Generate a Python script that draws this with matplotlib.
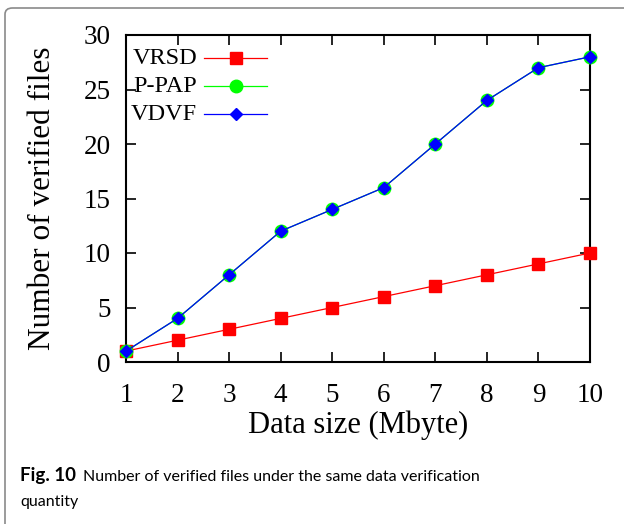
import matplotlib
matplotlib.use('Agg')
import matplotlib.pyplot as plt
from matplotlib.patches import FancyBboxPatch
from matplotlib.lines import Line2D

sizes = [1, 2, 3, 4, 5, 6, 7, 8, 9, 10]
vrsd = [1, 2, 3, 4, 5, 6, 7, 8, 9, 10]
ppap = [1, 4, 8, 12, 14, 16, 20, 24, 27, 28]
vdvf = [1, 4, 8, 12, 14, 16, 20, 24, 27, 28]
names = ['VRSD', 'P-PAP', 'VDVF']

serif = 'Liberation Serif'
sans = 'Lato'
fig = plt.figure(figsize=(6.24, 5.24), dpi=100)

# grey frame with rounded top-left corner
frame = FancyBboxPatch((5 / 624, -0.2), 1.2, 1.2 - 8 / 524,
                       boxstyle='round,pad=0,rounding_size=0.012',
                       transform=fig.transFigure, fill=False,
                       edgecolor='#8a8a8a', linewidth=1.2, clip_on=False)
fig.patches.append(frame)

ax = fig.add_axes([126 / 624, 1 - 362 / 524, (590 - 126) / 624, (362 - 35) / 524])

ax.plot(sizes, vrsd, '-', color='#ff0000', lw=0.9, marker='s', ms=8.5,
        mfc='#ff0000', mec='#ff0000', clip_on=False, zorder=3)
ax.plot(sizes, ppap, '-', color='#00ff00', lw=0.9, marker='o', ms=9,
        mfc='#00ff00', mec='#00ff00', clip_on=False, zorder=4)
ax.plot(sizes, vdvf, '-', color='#0000ff', lw=0.9, marker='D', ms=6.5,
        mfc='#0000ff', mec='#0000ff', clip_on=False, zorder=5)

ax.set_xlim(1, 10)
ax.set_ylim(0, 30)
ax.set_xticks(sizes)
ax.set_yticks([0, 5, 10, 15, 20, 25, 30])
ax.tick_params(direction='in', length=7, width=1.2, top=True, right=True,
               labelsize=19.5)
ax.tick_params(axis='x', pad=15)
ax.tick_params(axis='y', pad=11)
for lab in ax.get_xticklabels() + ax.get_yticklabels():
    lab.set_fontfamily(serif)
for s in ax.spines.values():
    s.set_linewidth(1.5)

ax.set_xlabel('Data size (Mbyte)', fontsize=22, fontfamily=serif, va='top')
ax.xaxis.set_label_coords(0.5, (362 - 411) / 327)
ax.set_ylabel('Number of verified files', fontsize=22.5, fontfamily=serif)
ax.yaxis.set_label_coords((57 - 126) / 464, 0.5)

# legend, gnuplot style: text right-aligned, sample line after it
styles = [dict(color='#ff0000', marker='s', ms=8.5),
          dict(color='#00ff00', marker='o', ms=9),
          dict(color='#0000ff', marker='D', ms=6.5)]
for i, (name, st) in enumerate(zip(names, styles)):
    yy = 1 - (58 - 35 + i * 28) / 327
    ax.text((197 - 126) / 464, yy, name, transform=ax.transAxes, ha='right',
            va='center', fontsize=17.5, fontfamily=serif)
    ax.add_line(Line2D([(204 - 126) / 464, (267 - 126) / 464], [yy, yy],
                       transform=ax.transAxes, lw=0.9, color=st['color']))
    ax.add_line(Line2D([(236 - 126) / 464], [yy], transform=ax.transAxes,
                       marker=st['marker'], ms=st['ms'], mfc=st['color'],
                       mec=st['color'], lw=0))

fig.text(20 / 624, 1 - 481 / 524, 'Fig. 10', fontsize=13.5, fontweight='bold',
         fontfamily=sans, va='baseline')
fig.text(83 / 624, 1 - 481 / 524,
         'Number of verified files under the same data verification',
         fontsize=11.5, fontfamily=sans, va='baseline')
fig.text(20 / 624, 1 - 506 / 524, 'quantity', fontsize=11.5,
         fontfamily=sans, va='baseline')

fig.savefig('out.png', dpi=100)
